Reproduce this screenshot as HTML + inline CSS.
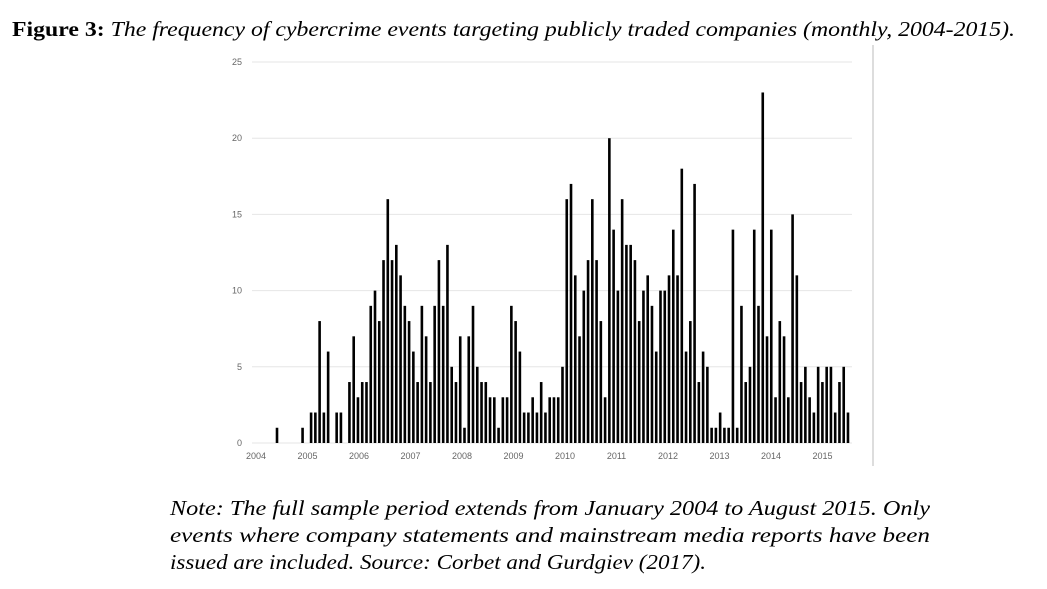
<!DOCTYPE html>
<html><head><meta charset="utf-8"><style>
html,body{margin:0;padding:0;background:#fff;}
svg{display:block;font-family:"Liberation Serif",serif;}
</style></head><body>
<svg width="1047" height="589" xmlns="http://www.w3.org/2000/svg">
<text x="12" y="36" font-size="21" textLength="1003" lengthAdjust="spacingAndGlyphs"><tspan font-weight="bold">Figure 3:</tspan> <tspan font-style="italic">The frequency of cybercrime events targeting publicly traded companies (monthly, 2004-2015).</tspan></text>
<line x1="873" y1="45" x2="873" y2="466" stroke="#bbb" stroke-width="1"/>
<g id="grid"></g>
<g id="yticks" font-family="Liberation Sans, sans-serif" font-size="9" fill="#666"></g>
<g id="xticks" font-family="Liberation Sans, sans-serif" font-size="9" fill="#666"></g>
<g id="bars"></g>
<g font-style="italic" font-size="21" fill="#000">
<text x="170" y="515" textLength="760" lengthAdjust="spacingAndGlyphs">Note: The full sample period extends from January 2004 to August 2015. Only</text>
<text x="170" y="542" textLength="760" lengthAdjust="spacingAndGlyphs">events where company statements and mainstream media reports have been</text>
<text x="170" y="569" textLength="536" lengthAdjust="spacingAndGlyphs">issued are included. Source: Corbet and Gurdgiev (2017).</text>
</g>
</svg>
<script>
const yTicks = [0,5,10,15,20,25];
const yearLabels = ["2004","2005","2006","2007","2008","2009","2010","2011","2012","2013","2014","2015"];
const counts = [0,0,0,0,0,1,0,0,0,0,0,1,0,2,2,8,2,6,0,2,2,0,
4,7,3,4,4,9,10,8,12,16,
12,13,11,9,8,6,4,9,7,4,
9,12,9,13,5,4,7,1,7,9,
5,4,4,3,3,1,3,3,9,8,
6,2,2,3,2,4,2,3,3,3,
5,16,17,11,7,10,12,16,12,8,
3,20,14,10,16,13,13,12,8,10,
11,9,6,10,10,11,14,11,18,6,
8,17,4,6,5,1,1,2,1,1,
14,1,9,4,5,14,9,23,7,14,
3,8,7,3,15,11,4,5,3,2,
5,4,5,5,2,4,5,2];
const NS="http://www.w3.org/2000/svg";
const x0=256, monthW=4.261, yBase=443, yTop=62, yMax=25;
function xScale(i){return 255.7+i*monthW;}
function yScale(v){return yBase-(v/yMax)*(yBase-yTop);}
const grid=document.getElementById('grid'), yt=document.getElementById('yticks'), xt=document.getElementById('xticks'), bars=document.getElementById('bars');
yTicks.forEach(t=>{
  const l=document.createElementNS(NS,'line');
  l.setAttribute('x1',252);l.setAttribute('x2',852);
  l.setAttribute('y1',yScale(t));l.setAttribute('y2',yScale(t));
  l.setAttribute('stroke','#e6e6e6');l.setAttribute('stroke-width','1');
  
  
  grid.appendChild(l);
  const tx=document.createElementNS(NS,'text');
  tx.setAttribute('x',242);tx.setAttribute('y',yScale(t)+3);tx.setAttribute('text-anchor','end');
  tx.textContent=t;
  
  
  yt.appendChild(tx);
});
yearLabels.forEach((y,k)=>{
  const tx=document.createElementNS(NS,'text');
  tx.setAttribute('x',x0+k*51.5);tx.setAttribute('y',459);tx.setAttribute('text-anchor','middle');
  tx.textContent=y;
  
  
  xt.appendChild(tx);
});
counts.forEach((v,i)=>{
  if(!v) return;
  const r=document.createElementNS(NS,'rect');
  r.setAttribute('x',xScale(i)-1.3);r.setAttribute('width',2.6);
  r.setAttribute('y',yScale(v));r.setAttribute('height',yBase-yScale(v));
  r.setAttribute('fill','#000');
  
  
  bars.appendChild(r);
});
</script>
</body></html>
